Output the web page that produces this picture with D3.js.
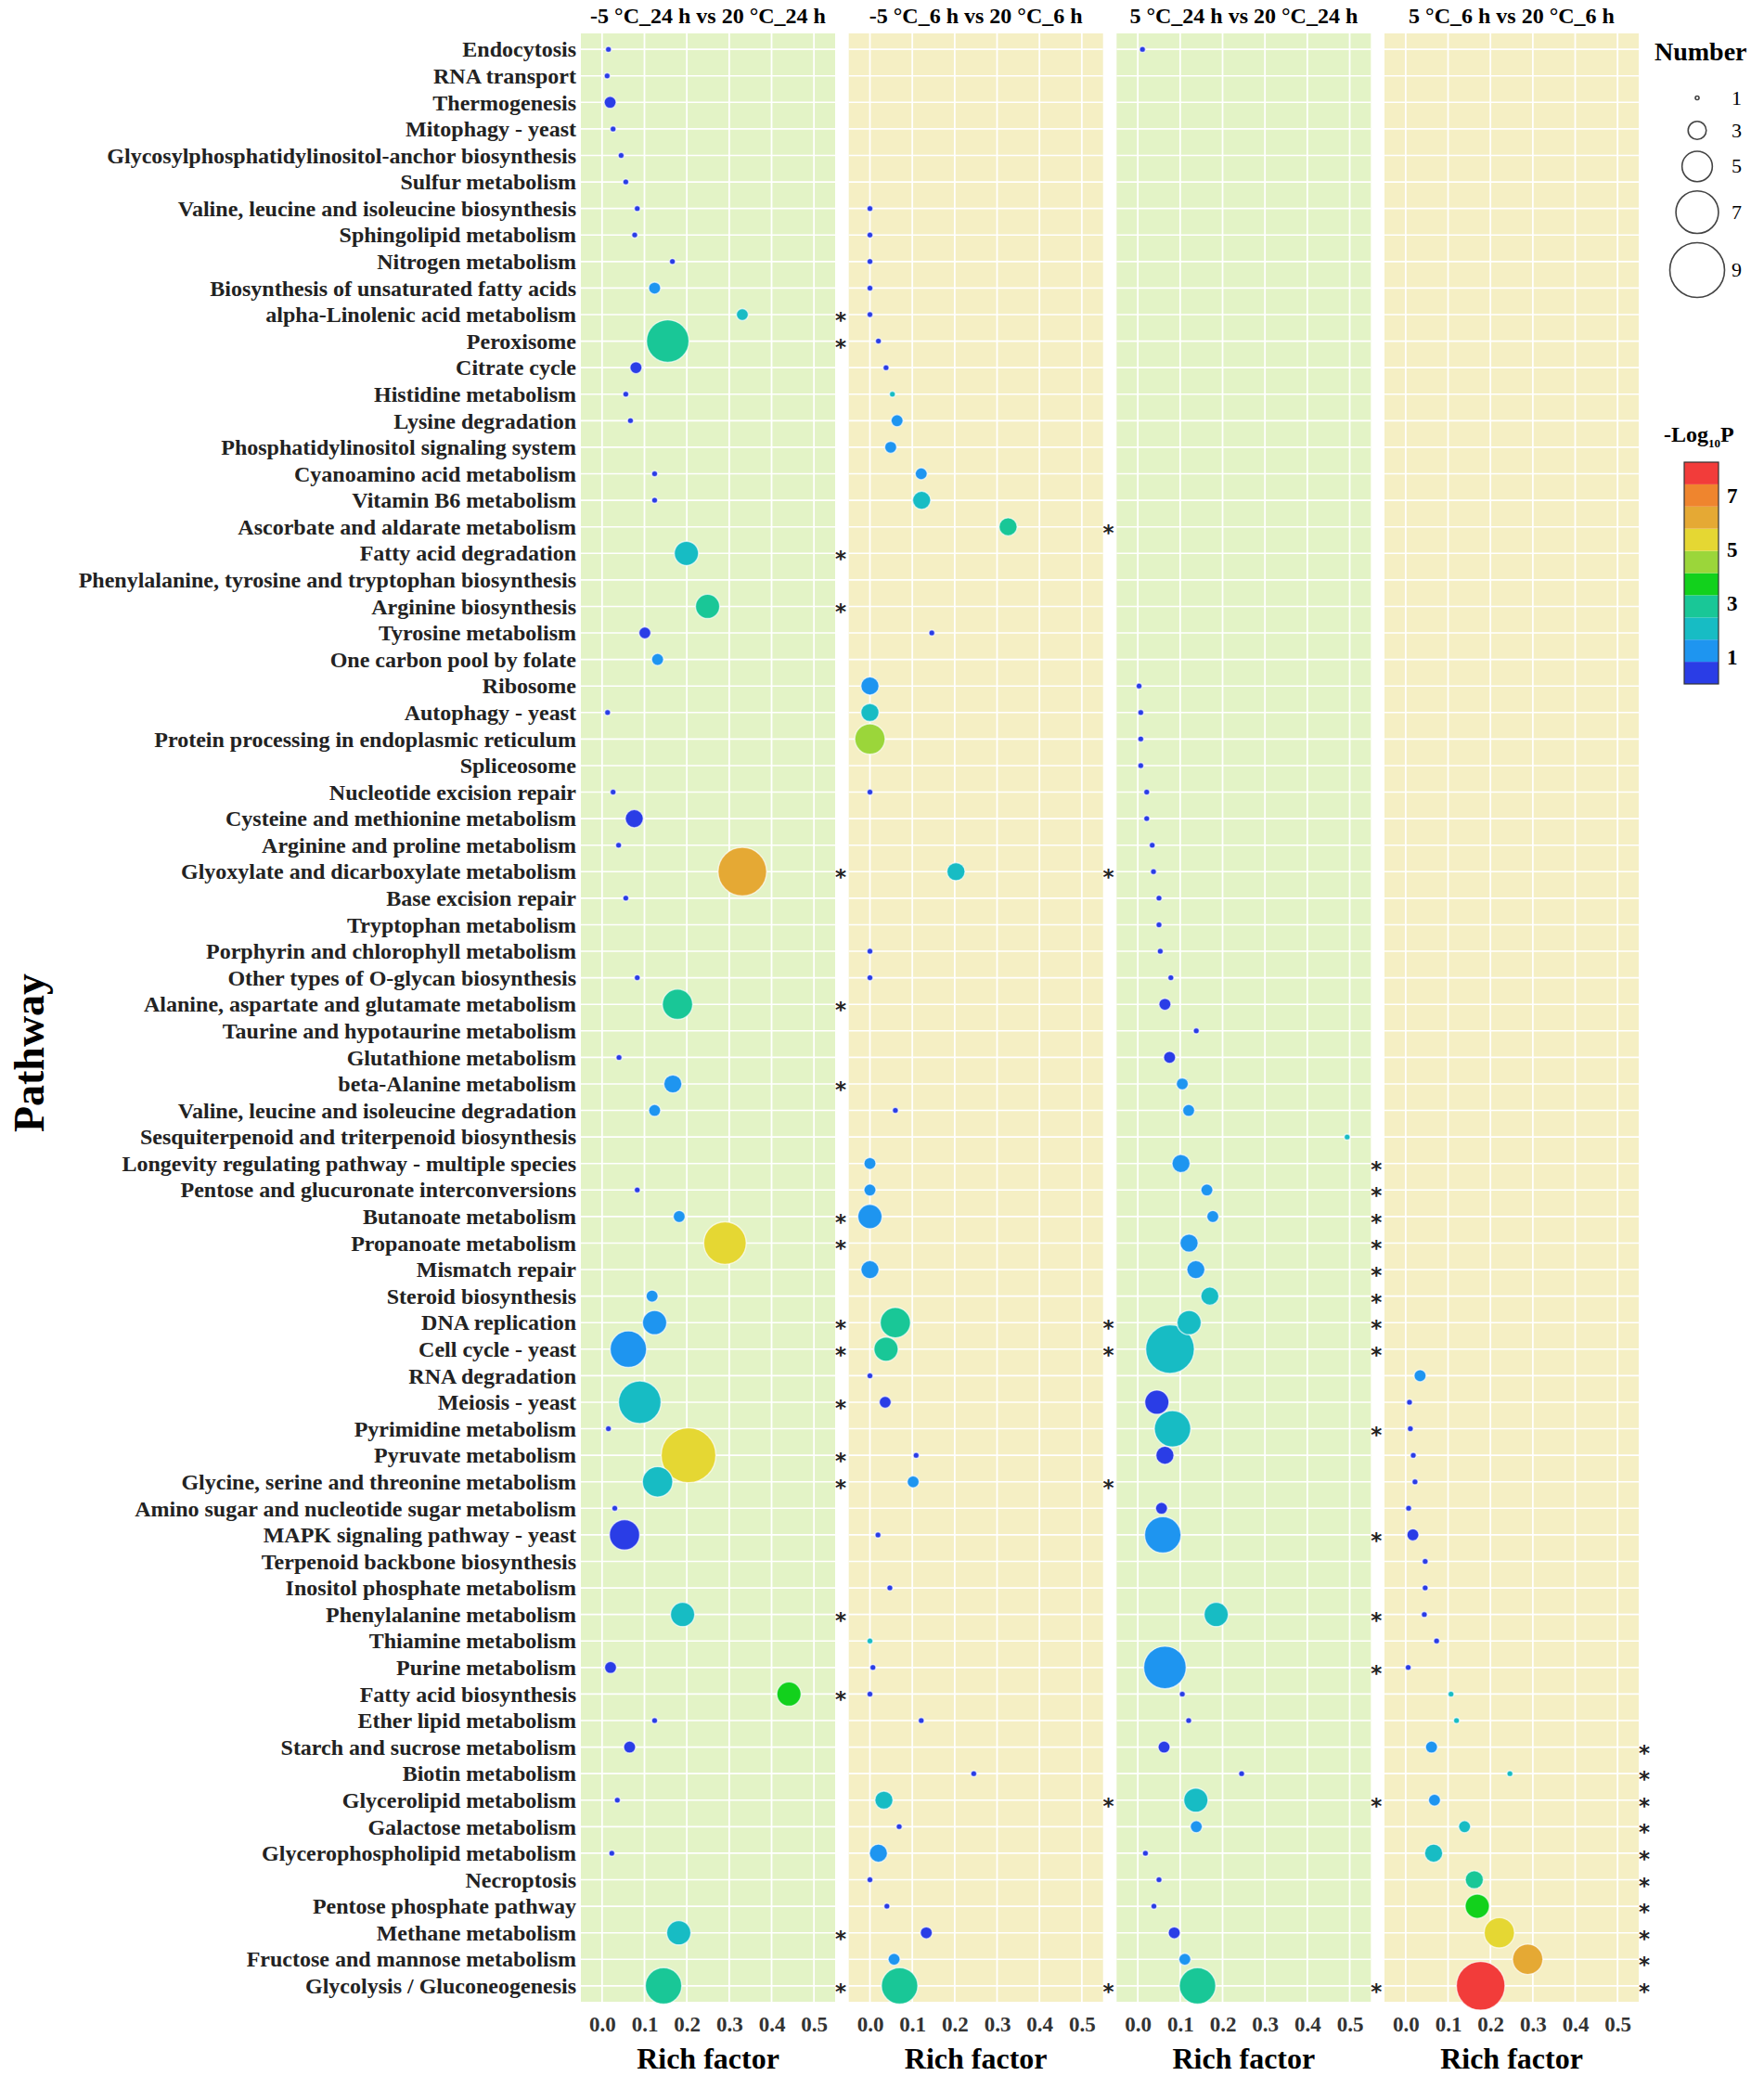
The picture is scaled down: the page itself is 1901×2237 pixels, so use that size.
<!DOCTYPE html>
<html>
<head>
<meta charset="utf-8">
<script src="https://cdn.jsdelivr.net/npm/d3@7"></script>
<style>
  body { margin: 0; background: #fff; }
  svg text { font-family: "Liberation Serif", "Times New Roman", serif; }
</style>
</head>
<body>
<div id="chart"></div>
<script>
  // facet titles
  const groups = [
    "-5 °C_24 h vs 20 °C_24 h",
    "-5 °C_6 h vs 20 °C_6 h",
    "5 °C_24 h vs 20 °C_24 h",
    "5 °C_6 h vs 20 °C_6 h"
  ]

  // y categories, top to bottom
  const pathways = [
    "Endocytosis", "RNA transport", "Thermogenesis", "Mitophagy - yeast",
    "Glycosylphosphatidylinositol-anchor biosynthesis", "Sulfur metabolism",
    "Valine, leucine and isoleucine biosynthesis", "Sphingolipid metabolism",
    "Nitrogen metabolism", "Biosynthesis of unsaturated fatty acids",
    "alpha-Linolenic acid metabolism", "Peroxisome", "Citrate cycle",
    "Histidine metabolism", "Lysine degradation", "Phosphatidylinositol signaling system",
    "Cyanoamino acid metabolism", "Vitamin B6 metabolism", "Ascorbate and aldarate metabolism",
    "Fatty acid degradation", "Phenylalanine, tyrosine and tryptophan biosynthesis",
    "Arginine biosynthesis", "Tyrosine metabolism", "One carbon pool by folate",
    "Ribosome", "Autophagy - yeast", "Protein processing in endoplasmic reticulum",
    "Spliceosome", "Nucleotide excision repair", "Cysteine and methionine metabolism",
    "Arginine and proline metabolism", "Glyoxylate and dicarboxylate metabolism",
    "Base excision repair", "Tryptophan metabolism", "Porphyrin and chlorophyll metabolism",
    "Other types of O-glycan biosynthesis", "Alanine, aspartate and glutamate metabolism",
    "Taurine and hypotaurine metabolism", "Glutathione metabolism", "beta-Alanine metabolism",
    "Valine, leucine and isoleucine degradation", "Sesquiterpenoid and triterpenoid biosynthesis",
    "Longevity regulating pathway - multiple species", "Pentose and glucuronate interconversions",
    "Butanoate metabolism", "Propanoate metabolism", "Mismatch repair", "Steroid biosynthesis",
    "DNA replication", "Cell cycle - yeast", "RNA degradation", "Meiosis - yeast",
    "Pyrimidine metabolism", "Pyruvate metabolism", "Glycine, serine and threonine metabolism",
    "Amino sugar and nucleotide sugar metabolism", "MAPK signaling pathway - yeast",
    "Terpenoid backbone biosynthesis", "Inositol phosphate metabolism", "Phenylalanine metabolism",
    "Thiamine metabolism", "Purine metabolism", "Fatty acid biosynthesis", "Ether lipid metabolism",
    "Starch and sucrose metabolism", "Biotin metabolism", "Glycerolipid metabolism",
    "Galactose metabolism", "Glycerophospholipid metabolism", "Necroptosis",
    "Pentose phosphate pathway", "Methane metabolism", "Fructose and mannose metabolism",
    "Glycolysis / Gluconeogenesis"
  ]

  // [pathway, rich factor, number, -log10P]
  const cold24 = [
    ["Endocytosis", 0.015, 1, 0.3], ["RNA transport", 0.012, 1, 0.2], ["Thermogenesis", 0.019, 2, 0.6],
    ["Mitophagy - yeast", 0.026, 1, 0.3], ["Glycosylphosphatidylinositol-anchor biosynthesis", 0.045, 1, 0.3],
    ["Sulfur metabolism", 0.056, 1, 0.3], ["Valine, leucine and isoleucine biosynthesis", 0.083, 1, 0.4],
    ["Sphingolipid metabolism", 0.077, 1, 0.4], ["Nitrogen metabolism", 0.166, 1, 0.6],
    ["Biosynthesis of unsaturated fatty acids", 0.124, 2, 1.3], ["alpha-Linolenic acid metabolism", 0.331, 2, 2.1],
    ["Peroxisome", 0.155, 7, 3.0], ["Citrate cycle", 0.080, 2, 0.7], ["Histidine metabolism", 0.056, 1, 0.3],
    ["Lysine degradation", 0.067, 1, 0.3], ["Cyanoamino acid metabolism", 0.124, 1, 0.5],
    ["Vitamin B6 metabolism", 0.124, 1, 0.5], ["Fatty acid degradation", 0.199, 4, 2.3],
    ["Arginine biosynthesis", 0.249, 4, 2.8], ["Tyrosine metabolism", 0.101, 2, 0.6],
    ["One carbon pool by folate", 0.131, 2, 1.2], ["Autophagy - yeast", 0.013, 1, 0.2],
    ["Nucleotide excision repair", 0.026, 1, 0.3], ["Cysteine and methionine metabolism", 0.076, 3, 0.7],
    ["Arginine and proline metabolism", 0.039, 1, 0.3], ["Glyoxylate and dicarboxylate metabolism", 0.331, 8, 6.2],
    ["Base excision repair", 0.056, 1, 0.3], ["Other types of O-glycan biosynthesis", 0.083, 1, 0.4],
    ["Alanine, aspartate and glutamate metabolism", 0.178, 5, 2.8], ["Glutathione metabolism", 0.040, 1, 0.3],
    ["beta-Alanine metabolism", 0.167, 3, 1.4], ["Valine, leucine and isoleucine degradation", 0.124, 2, 1.1],
    ["Pentose and glucuronate interconversions", 0.083, 1, 0.4], ["Butanoate metabolism", 0.182, 2, 1.3],
    ["Propanoate metabolism", 0.290, 7, 5.3], ["Steroid biosynthesis", 0.118, 2, 1.3],
    ["DNA replication", 0.124, 4, 1.5], ["Cell cycle - yeast", 0.062, 6, 1.6], ["Meiosis - yeast", 0.089, 7, 2.2],
    ["Pyrimidine metabolism", 0.015, 1, 0.2], ["Pyruvate metabolism", 0.204, 9, 5.1],
    ["Glycine, serine and threonine metabolism", 0.131, 5, 2.3], ["Amino sugar and nucleotide sugar metabolism", 0.030, 1, 0.3],
    ["MAPK signaling pathway - yeast", 0.053, 5, 0.7], ["Phenylalanine metabolism", 0.190, 4, 2.2],
    ["Purine metabolism", 0.020, 2, 0.5], ["Fatty acid biosynthesis", 0.441, 4, 3.8],
    ["Ether lipid metabolism", 0.124, 1, 0.5], ["Starch and sucrose metabolism", 0.065, 2, 0.6],
    ["Glycerolipid metabolism", 0.036, 1, 0.3], ["Glycerophospholipid metabolism", 0.023, 1, 0.3],
    ["Methane metabolism", 0.181, 4, 2.1], ["Glycolysis / Gluconeogenesis", 0.145, 6, 2.9]
  ]
  const cold6 = [
    ["Valine, leucine and isoleucine biosynthesis", 0.0, 1, 0.1], ["Sphingolipid metabolism", 0.0, 1, 0.1],
    ["Nitrogen metabolism", 0.0, 1, 0.1], ["Biosynthesis of unsaturated fatty acids", 0.0, 1, 0.1],
    ["alpha-Linolenic acid metabolism", 0.0, 1, 0.1], ["Peroxisome", 0.020, 1, 0.2], ["Citrate cycle", 0.038, 1, 0.3],
    ["Histidine metabolism", 0.053, 1, 1.8], ["Lysine degradation", 0.064, 2, 1.3],
    ["Phosphatidylinositol signaling system", 0.049, 2, 1.2], ["Cyanoamino acid metabolism", 0.121, 2, 1.3],
    ["Vitamin B6 metabolism", 0.122, 3, 2.0], ["Ascorbate and aldarate metabolism", 0.326, 3, 3.0],
    ["Tyrosine metabolism", 0.146, 1, 0.6], ["Ribosome", 0.0, 3, 1.4], ["Autophagy - yeast", 0.0, 3, 2.1],
    ["Protein processing in endoplasmic reticulum", 0.0, 5, 4.6], ["Nucleotide excision repair", 0.0, 1, 0.1],
    ["Glyoxylate and dicarboxylate metabolism", 0.203, 3, 2.2], ["Porphyrin and chlorophyll metabolism", 0.0, 1, 0.1],
    ["Other types of O-glycan biosynthesis", 0.0, 1, 0.1], ["Valine, leucine and isoleucine degradation", 0.060, 1, 0.4],
    ["Longevity regulating pathway - multiple species", 0.0, 2, 1.3], ["Pentose and glucuronate interconversions", 0.0, 2, 1.2],
    ["Butanoate metabolism", 0.0, 4, 1.5], ["Mismatch repair", 0.0, 3, 1.4], ["DNA replication", 0.060, 5, 3.1],
    ["Cell cycle - yeast", 0.038, 4, 3.0], ["RNA degradation", 0.0, 1, 0.1], ["Meiosis - yeast", 0.036, 2, 0.6],
    ["Pyruvate metabolism", 0.109, 1, 0.5], ["Glycine, serine and threonine metabolism", 0.102, 2, 1.2],
    ["MAPK signaling pathway - yeast", 0.019, 1, 0.2], ["Inositol phosphate metabolism", 0.047, 1, 0.3],
    ["Thiamine metabolism", 0.0, 1, 1.7], ["Purine metabolism", 0.007, 1, 0.2], ["Fatty acid biosynthesis", 0.0, 1, 0.1],
    ["Ether lipid metabolism", 0.121, 1, 0.5], ["Biotin metabolism", 0.245, 1, 0.7],
    ["Glycerolipid metabolism", 0.033, 3, 2.4], ["Galactose metabolism", 0.069, 1, 0.4],
    ["Glycerophospholipid metabolism", 0.020, 3, 1.5], ["Necroptosis", 0.0, 1, 0.1],
    ["Pentose phosphate pathway", 0.040, 1, 0.3], ["Methane metabolism", 0.133, 2, 0.7],
    ["Fructose and mannose metabolism", 0.057, 2, 1.3], ["Glycolysis / Gluconeogenesis", 0.070, 6, 3.1]
  ]
  const chill24 = [
    ["Endocytosis", 0.011, 1, 0.2], ["Ribosome", 0.003, 1, 0.1], ["Autophagy - yeast", 0.007, 1, 0.1],
    ["Protein processing in endoplasmic reticulum", 0.007, 1, 0.1], ["Spliceosome", 0.007, 1, 0.1],
    ["Nucleotide excision repair", 0.021, 1, 0.2], ["Cysteine and methionine metabolism", 0.021, 1, 0.2],
    ["Arginine and proline metabolism", 0.034, 1, 0.2], ["Glyoxylate and dicarboxylate metabolism", 0.037, 1, 0.2],
    ["Base excision repair", 0.050, 1, 0.3], ["Tryptophan metabolism", 0.050, 1, 0.3],
    ["Porphyrin and chlorophyll metabolism", 0.053, 1, 0.3], ["Other types of O-glycan biosynthesis", 0.078, 1, 0.4],
    ["Alanine, aspartate and glutamate metabolism", 0.064, 2, 0.6], ["Taurine and hypotaurine metabolism", 0.138, 1, 0.5],
    ["Glutathione metabolism", 0.075, 2, 0.6], ["beta-Alanine metabolism", 0.105, 2, 1.2],
    ["Valine, leucine and isoleucine degradation", 0.120, 2, 1.3], ["Sesquiterpenoid and triterpenoid biosynthesis", 0.494, 1, 1.9],
    ["Longevity regulating pathway - multiple species", 0.102, 3, 1.4], ["Pentose and glucuronate interconversions", 0.163, 2, 1.3],
    ["Butanoate metabolism", 0.177, 2, 1.3], ["Propanoate metabolism", 0.121, 3, 1.5], ["Mismatch repair", 0.137, 3, 1.5],
    ["Steroid biosynthesis", 0.170, 3, 2.0], ["DNA replication", 0.121, 4, 2.1], ["Cell cycle - yeast", 0.076, 8, 2.3],
    ["Meiosis - yeast", 0.045, 4, 0.7], ["Pyrimidine metabolism", 0.082, 6, 2.2], ["Pyruvate metabolism", 0.064, 3, 0.6],
    ["Amino sugar and nucleotide sugar metabolism", 0.056, 2, 0.5], ["MAPK signaling pathway - yeast", 0.059, 6, 1.5],
    ["Phenylalanine metabolism", 0.185, 4, 2.2], ["Purine metabolism", 0.064, 7, 1.6],
    ["Fatty acid biosynthesis", 0.105, 1, 0.4], ["Ether lipid metabolism", 0.120, 1, 0.5],
    ["Starch and sucrose metabolism", 0.062, 2, 0.6], ["Biotin metabolism", 0.245, 1, 0.7],
    ["Glycerolipid metabolism", 0.137, 4, 2.3], ["Galactose metabolism", 0.138, 2, 1.4],
    ["Glycerophospholipid metabolism", 0.018, 1, 0.2], ["Necroptosis", 0.050, 1, 0.3],
    ["Pentose phosphate pathway", 0.038, 1, 0.3], ["Methane metabolism", 0.086, 2, 0.6],
    ["Fructose and mannose metabolism", 0.111, 2, 1.3], ["Glycolysis / Gluconeogenesis", 0.141, 6, 2.8]
  ]
  const chill6 = [
    ["RNA degradation", 0.034, 2, 1.4], ["Meiosis - yeast", 0.009, 1, 0.2], ["Pyrimidine metabolism", 0.011, 1, 0.2],
    ["Pyruvate metabolism", 0.018, 1, 0.2], ["Glycine, serine and threonine metabolism", 0.022, 1, 0.2],
    ["Amino sugar and nucleotide sugar metabolism", 0.007, 1, 0.2], ["MAPK signaling pathway - yeast", 0.017, 2, 0.6],
    ["Terpenoid backbone biosynthesis", 0.046, 1, 0.3], ["Inositol phosphate metabolism", 0.046, 1, 0.3],
    ["Phenylalanine metabolism", 0.044, 1, 0.3], ["Thiamine metabolism", 0.073, 1, 0.4], ["Purine metabolism", 0.006, 1, 0.2],
    ["Fatty acid biosynthesis", 0.107, 1, 1.9], ["Ether lipid metabolism", 0.120, 1, 1.9],
    ["Starch and sucrose metabolism", 0.061, 2, 1.4], ["Biotin metabolism", 0.246, 1, 2.0],
    ["Glycerolipid metabolism", 0.068, 2, 1.4], ["Galactose metabolism", 0.139, 2, 2.1],
    ["Glycerophospholipid metabolism", 0.066, 3, 2.2], ["Necroptosis", 0.162, 3, 2.9],
    ["Pentose phosphate pathway", 0.169, 4, 3.8], ["Methane metabolism", 0.221, 5, 5.3],
    ["Fructose and mannose metabolism", 0.288, 5, 6.3], ["Glycolysis / Gluconeogenesis", 0.177, 8, 7.9]
  ]
  const panelData = [cold24, cold6, chill24, chill6]

  // significance marks (*) per facet
  const stars = [
    ["alpha-Linolenic acid metabolism", "Peroxisome", "Fatty acid degradation", "Arginine biosynthesis",
     "Glyoxylate and dicarboxylate metabolism", "Alanine, aspartate and glutamate metabolism", "beta-Alanine metabolism",
     "Butanoate metabolism", "Propanoate metabolism", "DNA replication", "Cell cycle - yeast", "Meiosis - yeast",
     "Pyruvate metabolism", "Glycine, serine and threonine metabolism", "Phenylalanine metabolism",
     "Fatty acid biosynthesis", "Methane metabolism", "Glycolysis / Gluconeogenesis"],
    ["Ascorbate and aldarate metabolism", "Glyoxylate and dicarboxylate metabolism", "DNA replication",
     "Cell cycle - yeast", "Glycine, serine and threonine metabolism", "Glycerolipid metabolism",
     "Glycolysis / Gluconeogenesis"],
    ["Longevity regulating pathway - multiple species", "Pentose and glucuronate interconversions",
     "Butanoate metabolism", "Propanoate metabolism", "Mismatch repair", "Steroid biosynthesis", "DNA replication",
     "Cell cycle - yeast", "Pyrimidine metabolism", "MAPK signaling pathway - yeast", "Phenylalanine metabolism",
     "Purine metabolism", "Glycerolipid metabolism", "Glycolysis / Gluconeogenesis"],
    ["Starch and sucrose metabolism", "Biotin metabolism", "Glycerolipid metabolism", "Galactose metabolism",
     "Glycerophospholipid metabolism", "Necroptosis", "Pentose phosphate pathway", "Methane metabolism",
     "Fructose and mannose metabolism", "Glycolysis / Gluconeogenesis"]
  ]

  const xTicks = [0, 0.1, 0.2, 0.3, 0.4, 0.5]
  const sizeBreaks = [1, 3, 5, 7, 9]
  const colorBreaks = [1, 3, 5, 7]
  const binColors = ["#2a3de6", "#1e95f0", "#17bcc4", "#19c797", "#12d11c",
                     "#9bd63a", "#e5d733", "#e5a934", "#ef852e", "#f23c3a"]
  const panelFills = ["#e3f3c6", "#f5efc4", "#e3f3c6", "#f5efc4"]

  const svgW = 1901
  const svgH = 2237
  const firstLeft = 626
  const panelW = 274
  const panelGap = 14.67
  const plotTop = 36
  const plotBottom = 2157

  const svg = d3.select("#chart").append("svg")
    .attr("width", svgW)
    .attr("height", svgH)

  const x = d3.scaleLinear().domain([-0.05, 0.55]).range([0, panelW])
  const y = d3.scalePoint().domain(pathways).range([plotTop, plotBottom]).padding(0.6)
  const r = d3.scaleLinear().domain([1, 9]).range([3.2, 29.5])
  const color = d3.scaleQuantize().domain([0, 8.24]).range(binColors)

  groups.forEach((g, i) => {
    const left = firstLeft + i * (panelW + panelGap)
    const panel = svg.append("g").attr("transform", `translate(${left},0)`)

    panel.append("rect")
      .attr("x", 0).attr("y", plotTop)
      .attr("width", panelW).attr("height", plotBottom - plotTop)
      .attr("fill", panelFills[i])

    // grid
    panel.selectAll(".hgrid").data(pathways).enter().append("line")
      .attr("x1", 0).attr("x2", panelW)
      .attr("y1", d => y(d)).attr("y2", d => y(d))
      .attr("stroke", "#fff").attr("stroke-width", 1.6)
    panel.selectAll(".vgrid").data(xTicks).enter().append("line")
      .attr("x1", d => x(d)).attr("x2", d => x(d))
      .attr("y1", plotTop).attr("y2", plotBottom)
      .attr("stroke", "#fff").attr("stroke-width", 1.8)

    // strip title
    panel.append("text")
      .attr("x", panelW / 2).attr("y", 25)
      .attr("text-anchor", "middle")
      .style("font-size", "24px").style("font-weight", "bold")
      .text(g)

    // bubbles, largest first
    const pts = panelData[i].slice().sort((a, b) => b[2] - a[2])
    panel.selectAll(".pt").data(pts).enter().append("circle")
      .attr("cx", d => x(d[1]))
      .attr("cy", d => y(d[0]))
      .attr("r", d => r(d[2]))
      .attr("fill", d => color(d[3]))
      .attr("stroke", "#ffffff")
      .attr("stroke-opacity", 0.65)
      .attr("stroke-width", 1.4)

    // stars
    panel.selectAll(".star").data(stars[i]).enter().append("text")
      .attr("x", x(0.563))
      .attr("y", d => y(d) + 14)
      .attr("text-anchor", "middle")
      .style("font-family", "'DejaVu Sans', sans-serif")
      .style("font-size", "23px").style("font-weight", "bold")
      .attr("fill", "#222")
      .text("*")

    // x axis
    const xa = panel.append("g")
      .attr("transform", `translate(0,${plotBottom})`)
      .call(d3.axisBottom(x).tickValues(xTicks).tickFormat(d3.format(".1f")).tickSize(0).tickPadding(16))
    xa.select(".domain").remove()
    xa.selectAll("text")
      .style("font-size", "23px").style("font-weight", "bold")
      .style("font-family", "'Liberation Serif', serif")
      .attr("fill", "#333")

    panel.append("text")
      .attr("x", panelW / 2).attr("y", 2229)
      .attr("text-anchor", "middle")
      .style("font-size", "32px").style("font-weight", "bold")
      .text("Rich factor")
  })

  // y axis labels
  const ya = svg.append("g")
    .attr("transform", `translate(${firstLeft},0)`)
    .call(d3.axisLeft(y).tickSize(0).tickPadding(5))
  ya.select(".domain").remove()
  ya.selectAll("text")
    .style("font-size", "24px").style("font-weight", "bold")
    .style("font-family", "'Liberation Serif', serif")
    .attr("fill", "#222")

  svg.append("text")
    .attr("transform", `translate(47,${(plotTop + plotBottom) / 2 + 38}) rotate(-90)`)
    .attr("text-anchor", "middle")
    .style("font-size", "46px").style("font-weight", "bold")
    .text("Pathway")

  // size legend
  const legX = 1783
  svg.append("text")
    .attr("x", legX).attr("y", 65)
    .style("font-size", "28px").style("font-weight", "bold")
    .text("Number")

  let cy = 88
  sizeBreaks.forEach(n => {
    const rr = n === 1 ? 2 : r(n)
    const h = Math.max(2 * rr + 10, 35)
    const c = cy + h / 2
    svg.append("circle")
      .attr("cx", 1829).attr("cy", c).attr("r", rr)
      .attr("fill", "none").attr("stroke", "#444").attr("stroke-width", 1.6)
    svg.append("text")
      .attr("x", 1866).attr("y", c + 7)
      .style("font-size", "22px")
      .text(n)
    cy += h
  })

  // colour legend
  const t = svg.append("text")
    .attr("x", 1793).attr("y", 476)
    .style("font-size", "24px").style("font-weight", "bold")
  t.append("tspan").text("-Log")
  t.append("tspan").attr("dy", 6).style("font-size", "13px").text("10")
  t.append("tspan").attr("dy", -6).text("P")

  const cbar = d3.scaleLinear().domain([0, 8.24]).range([737, 498])
  const step = 8.24 / binColors.length
  svg.selectAll(".bin").data(binColors).enter().append("rect")
    .attr("x", 1815)
    .attr("y", (d, i) => cbar(step * (i + 1)))
    .attr("width", 37)
    .attr("height", (d, i) => cbar(step * i) - cbar(step * (i + 1)))
    .attr("fill", d => d)
  svg.append("rect")
    .attr("x", 1815).attr("y", 498).attr("width", 37).attr("height", 239)
    .attr("fill", "none").attr("stroke", "#333").attr("stroke-width", 1.2)
  svg.selectAll(".clab").data(colorBreaks).enter().append("text")
    .attr("x", 1861).attr("y", d => cbar(d) + 8)
    .style("font-size", "23px").style("font-weight", "bold")
    .text(d => d)
</script>
</body>
</html>
